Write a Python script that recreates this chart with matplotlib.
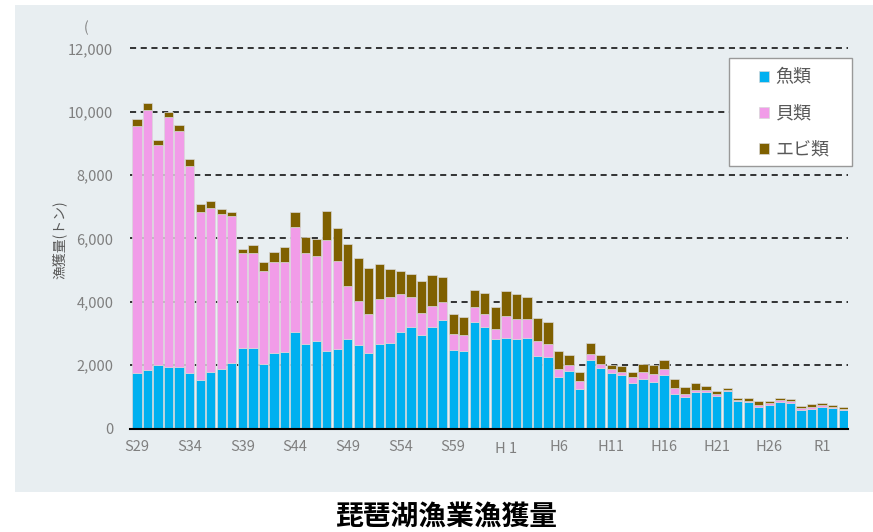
import matplotlib
matplotlib.use("Agg")
import matplotlib.pyplot as plt
import matplotlib.patches as mpatches
from matplotlib.ticker import FuncFormatter
import numpy as np

plt.rcParams['font.family'] = ['Noto Sans CJK JP', 'DejaVu Sans']

#%% データ（S29〜R3、トン）

fish = [1760, 1850, 2000, 1930, 1930, 1760, 1540, 1770, 1880, 2060,
        2550, 2550, 2050, 2370, 2420, 3040, 2670, 2750, 2450, 2520,
        2830, 2640, 2370, 2680, 2700, 3050, 3190, 2940, 3210, 3440,
        2470, 2440, 3370, 3190, 2840, 2860, 2830, 2860, 2300, 2260,
        1630, 1800, 1240, 2160, 1910, 1750, 1680, 1450, 1570, 1480,
        1690, 1100, 1000, 1150, 1160, 1020, 1170, 870, 850, 690,
        740, 850, 810, 570, 610, 680, 650, 570]

shell = [7790, 8210, 6950, 7890, 7470, 6540, 5290, 5200, 4900, 4660,
         2980, 2980, 2910, 2880, 2850, 3310, 2870, 2680, 3490, 2770,
         1670, 1400, 1240, 1410, 1460, 1180, 960, 710, 660, 560,
         520, 500, 460, 440, 300, 700, 640, 610, 470, 410,
         260, 210, 250, 190, 130, 120, 90, 170, 220, 250,
         190, 180, 90, 60, 70, 70, 40, 30, 30, 60,
         50, 40, 60, 70, 60, 50, 40, 40]

shrimp = [210, 220, 160, 170, 170, 200, 260, 210, 150, 110,
          130, 270, 290, 320, 450, 480, 500, 560, 940, 1040,
          1330, 1340, 1450, 1090, 860, 750, 720, 1000, 960, 780,
          610, 570, 550, 660, 690, 790, 770, 690, 730, 690,
          550, 310, 280, 350, 270, 150, 200, 170, 250, 260,
          280, 280, 220, 230, 120, 90, 60, 60, 70, 120,
          90, 80, 70, 70, 90, 70, 60, 70]

tick_labels = ["S29", "S34", "S39", "S44", "S49", "S54", "S59", "H 1",
               "H6", "H11", "H16", "H21", "H26", "R1"]

series_names = ["魚類", "貝類", "エビ類"]
colors = ['#00b0f0', '#f19ce8', '#7f6000']

x_pos = np.arange(len(fish))
fish = np.array(fish)
shell = np.array(shell)
shrimp = np.array(shrimp)

#==============================================================================

W, H = 873, 532
fig = plt.figure(figsize=(W / 100, H / 100), dpi=100)

# 背景パネル
panel = mpatches.Rectangle((15 / W, 1 - 492 / H), 1 - 15 / W, (492 - 5) / H,
                           transform=fig.transFigure, facecolor='#e8eef1',
                           edgecolor='none', zorder=-1)
fig.patches.append(panel)

ax = fig.add_axes([130 / W, 1 - 428.5 / H, 718 / W, 396 / H])
ax.set_facecolor('none')

kw = dict(width=0.88, edgecolor='#d8d8d8', linewidth=0.5, zorder=3)
ax.bar(x_pos, fish, color=colors[0], label=series_names[0], **kw)
ax.bar(x_pos, shell, bottom=fish, color=colors[1], label=series_names[1], **kw)
ax.bar(x_pos, shrimp, bottom=fish + shell, color=colors[2], label=series_names[2], **kw)

ax.set_xlim(-0.66, 67.46)
ax.set_ylim(0, 12500)
ax.set_yticks(np.arange(0, 12001, 2000))
ax.yaxis.set_major_formatter(FuncFormatter(lambda v, p: f"{int(v):,}"))
ax.set_xticks(x_pos[::5])
ax.set_xticklabels(tick_labels)

ax.grid(axis='y', color='black', linestyle=(0, (4, 3)), linewidth=1.1)
ax.set_axisbelow(True)

for s in ['top', 'right', 'left']:
    ax.spines[s].set_visible(False)
ax.spines['bottom'].set_linewidth(1.5)
ax.spines['bottom'].set_color('black')
ax.spines['bottom'].set_zorder(4)

ax.tick_params(axis='y', length=0, pad=12, labelsize=10.5, labelcolor='#7f7f7f')
ax.tick_params(axis='x', length=0, pad=8, labelsize=10.5, labelcolor='#7f7f7f')
ax.xaxis.get_major_ticks()[7].set_pad(10)

# 凡例
frame = mpatches.Rectangle((729 / W, 1 - 166 / H), 123 / W, 108 / H,
                           transform=fig.transFigure, facecolor='white',
                           edgecolor='#999999', linewidth=1.0, zorder=5)
fig.patches.append(frame)
lgd = fig.legend(loc='upper left', bbox_to_anchor=(759 / W, 1 - 68.5 / H),
                 frameon=False, fontsize=13, handlelength=0.58, handleheight=0.58,
                 handletextpad=0.35, labelspacing=1.0, borderpad=0, borderaxespad=0,
                 labelcolor='#595959')
lgd.set_zorder(6)

fig.text(59 / W, 1 - 240 / H, "漁獲量(トン)", rotation=90, ha='center', va='center',
         fontsize=10, color='#595959')
fig.text(86 / W, 1 - 28 / H, "(", ha='center', va='center', fontsize=10, color='#7f7f7f')

fig.text(447 / W, 1 - 518 / H, "琵琶湖漁業漁獲量", ha='center', va='center',
         fontsize=20, fontweight='bold', color='black')

plt.savefig("out.png", dpi=100)
